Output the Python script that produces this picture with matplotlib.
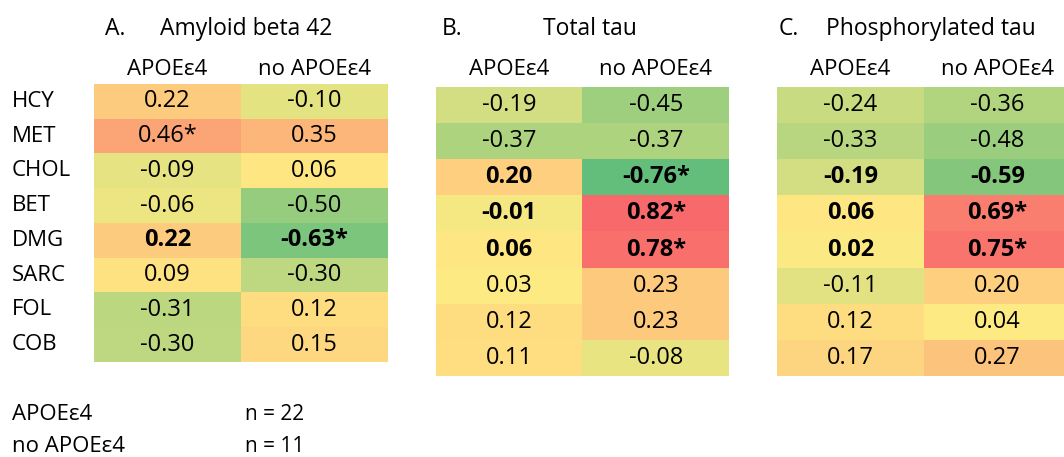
import numpy as np
import matplotlib.pyplot as plt
from matplotlib.colors import LinearSegmentedColormap, TwoSlopeNorm
from matplotlib.transforms import blended_transform_factory

plt.rcParams['font.family'] = ['Open Sans', 'DejaVu Sans']

W, H = 1064, 457

metabolites = ["HCY", "MET", "CHOL", "BET", "DMG", "SARC", "FOL", "COB"]
groups = ["APOEε4", "no APOEε4"]
group_n = [22, 11]

# correlation coefficients, one list per group
amyloid_e4 = [0.22, 0.46, -0.09, -0.06, 0.22, 0.09, -0.31, -0.30]
amyloid_no = [-0.10, 0.35, 0.06, -0.50, -0.63, -0.30, 0.12, 0.15]
ttau_e4 = [-0.19, -0.37, 0.20, -0.01, 0.06, 0.03, 0.12, 0.11]
ttau_no = [-0.45, -0.37, -0.76, 0.82, 0.78, 0.23, 0.23, -0.08]
ptau_e4 = [-0.24, -0.33, -0.19, 0.06, 0.02, -0.11, 0.12, 0.17]
ptau_no = [-0.36, -0.48, -0.59, 0.69, 0.75, 0.20, 0.04, 0.27]

# significant (*) flags
amyloid_sig_e4 = [0, 1, 0, 0, 0, 0, 0, 0]
amyloid_sig_no = [0, 0, 0, 0, 1, 0, 0, 0]
ttau_sig_e4 = [0, 0, 0, 0, 0, 0, 0, 0]
ttau_sig_no = [0, 0, 1, 1, 1, 0, 0, 0]
ptau_sig_e4 = [0, 0, 0, 0, 0, 0, 0, 0]
ptau_sig_no = [0, 0, 0, 1, 1, 0, 0, 0]

# rows printed in bold
amyloid_bold = [4]
ttau_bold = [2, 3, 4]
ptau_bold = [2, 3, 4]

panels = [
    ("A.", "Amyloid beta 42", amyloid_e4, amyloid_no, amyloid_sig_e4, amyloid_sig_no, amyloid_bold),
    ("B.", "Total tau", ttau_e4, ttau_no, ttau_sig_e4, ttau_sig_no, ttau_bold),
    ("C.", "Phosphorylated tau", ptau_e4, ptau_no, ptau_sig_e4, ptau_sig_no, ptau_bold),
]

# pixel layout: (left, top, width, height, letter x, title x)
boxes = [
    (94, 84, 294, 278, 105, 160),
    (436, 87, 293, 289, 442, 543),
    (777, 87, 294, 289, 779, 826),
]

all_vals = np.array([p[2] + p[3] for p in panels]).ravel()
cmap = LinearSegmentedColormap.from_list("excel_gyr", ["#63BE7B", "#FFEB84", "#F8696B"])
norm = TwoSlopeNorm(vmin=all_vals.min(), vcenter=np.median(all_vals), vmax=all_vals.max())


def fx(x):
    return x / W


def fy(y):
    return 1 - y / H


fig = plt.figure(figsize=(W / 100, H / 100), dpi=100)

for (letter, title, e4, no, sig_e4, sig_no, bold), (left, top, w, h, lx, tx) in zip(panels, boxes):
    ax = fig.add_axes([fx(left), fy(top + h), w / W, h / H])
    data = np.column_stack([e4, no])
    sig = np.column_stack([sig_e4, sig_no])
    ax.imshow(data, cmap=cmap, norm=norm, aspect='auto', interpolation='nearest',
              extent=(-0.5, 1.5, len(metabolites) - 0.5, -0.5))
    ax.set_axis_off()

    for i in range(data.shape[0]):
        for j in range(data.shape[1]):
            label = f"{data[i, j]:.2f}" + ("*" if sig[i, j] else "")
            ax.text(j, i, label, ha='center', va='center', fontsize=17,
                    fontweight='bold' if i in bold else 'normal')

    fig.text(fx(lx), fy(35), letter, fontsize=16.5, ha='left', va='baseline')
    fig.text(fx(tx), fy(35), title, fontsize=16.5, ha='left', va='baseline')
    for j, g in enumerate(groups):
        cx = left + w * (j + 0.5) / 2
        fig.text(fx(cx), fy(75), g, fontsize=16, ha='center', va='baseline')

    if letter == "A.":
        trans = blended_transform_factory(fig.transFigure, ax.transData)
        for i, m in enumerate(metabolites):
            ax.text(fx(12), i, m, transform=trans, ha='left', va='center', fontsize=16)

# sample sizes
for k, (g, n) in enumerate(zip(groups, group_n)):
    base = 420 + k * 32
    fig.text(fx(12), fy(base), g, fontsize=16, ha='left', va='baseline')
    fig.text(fx(245), fy(base), f"n = {n}", fontsize=15, ha='left', va='baseline')

fig.savefig("out.png", dpi=100)
